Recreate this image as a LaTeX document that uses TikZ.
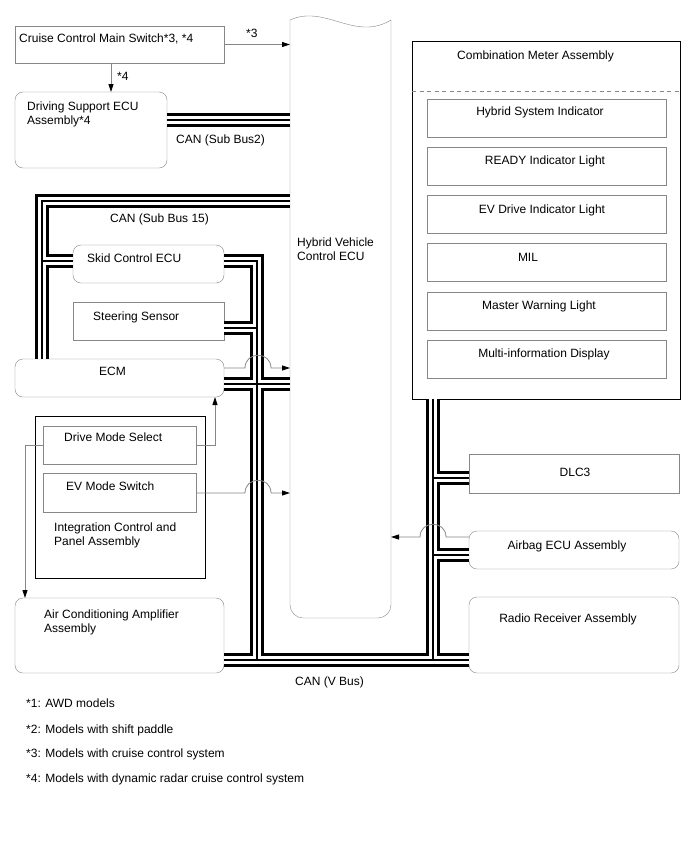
\documentclass[tikz,border=0pt]{standalone}
\usepackage{fontspec}
\setmainfont{Liberation Sans}
\usepackage{tikz}
\usetikzlibrary{arrows.meta,positioning,calc}
\definecolor{linegray}{RGB}{135,135,135}

\begin{document}
\begin{tikzpicture}[x=1pt,y=-1pt,font=\fontsize{12}{14}\selectfont,
  box/.style={draw=linegray,anchor=north west,inner sep=0pt,outer sep=0pt},
  rbox/.style={box,rounded corners=8pt},
  frame/.style={draw=black,anchor=north west,inner sep=0pt,outer sep=0pt},
  lamp/.style={box,minimum width=239pt,minimum height=38pt},
  txt/.style={anchor=base west,inner sep=0pt},
  ctxt/.style={anchor=base,inner sep=0pt},
  mtxt/.style={anchor=north west,inner sep=0pt,align=left},
  sig/.style={draw=linegray,line width=0.8pt,-{Triangle[length=8pt,width=5pt,color=black]}}
]
  \fill[white] (0,0) rectangle (688,852);
  \useasboundingbox (0,0) rectangle (688,852);

  % left column
  \node[box,minimum width=209pt,minimum height=37pt] (ccms) at (15,26) {};
  \node[rbox,minimum width=152pt,minimum height=76pt] (dsecu) at (15,92) {};
  \node[rbox,minimum width=151pt,minimum height=38pt] (skid) at (73,245) {};
  \node[box,minimum width=151pt,minimum height=38pt] (steer) at (73,302) {};
  \node[rbox,minimum width=209pt,minimum height=38pt] (ecm) at (15,359) {};
  \node[frame,minimum width=170pt,minimum height=162pt] (icpanel) at (35,416) {};
  \node[box,minimum width=153pt,minimum height=38pt] (dms) at (43,426) {};
  \node[box,minimum width=153pt,minimum height=39pt] (evsw) at (43,473) {};
  \node[rbox,minimum width=209pt,minimum height=75pt] (acamp) at (15,598) {};

  % hybrid vehicle control ECU
  \node[box,draw=none,minimum width=101pt,minimum height=598pt] (hvecu) at (290,20) {};
  \draw[linegray] (hvecu.north west) .. controls (325,4) and (355,42) .. (hvecu.north east)
    -- (391,605) .. controls (391,612) and (385,618) .. (378,618) -- (303,618)
    .. controls (296,618) and (290,612) .. (290,605) -- cycle;

  % right column
  \node[frame,minimum width=268pt,minimum height=358pt] (cmeter) at (412,41) {};
  \draw[linegray,dash pattern=on 4pt off 3.5pt] (cmeter.west |- 0,91) -- (cmeter.east |- 0,91);
  \node[lamp] (hsi) at (427,99) {};
  \node[lamp,below=10.2pt of hsi] (ready) {};
  \node[lamp,below=10.2pt of ready] (evdrive) {};
  \node[lamp,below=10.2pt of evdrive] (mil) {};
  \node[lamp,below=10.2pt of mil] (mwl) {};
  \node[lamp,below=10.2pt of mwl] (mid) {};
  \node[box,minimum width=210pt,minimum height=39pt] (dlc) at (469,454) {};
  \node[rbox,minimum width=210pt,minimum height=38pt] (airbag) at (469,531) {};
  \node[rbox,minimum width=210pt,minimum height=76pt] (radio) at (469,597) {};

  % texts
  \node[txt] (ccms-t) at (19,42.5) {Cruise Control Main Switch*3, *4};
  \node[mtxt] (dsecu-t) at (27,102) {Driving Support ECU\\Assembly*4};
  \node[txt] (skid-t) at (87,262.5) {Skid Control ECU};
  \node[txt] (steer-t) at (93,320.5) {Steering Sensor};
  \node[txt] (ecm-t) at (99,375.5) {ECM};
  \node[txt] (dms-t) at (64,441.5) {Drive Mode Select};
  \node[txt] (evsw-t) at (66,490.5) {EV Mode Switch};
  \node[mtxt] (icpanel-t) at (54,522.7) {Integration Control and\\Panel Assembly};
  \node[mtxt] (acamp-t) at (44,610) {Air Conditioning Amplifier\\Assembly};
  \node[mtxt] (hvecu-t) at (297,237.5) {Hybrid Vehicle\\Control ECU};
  \node[txt] (cmeter-t) at (457,59.5) {Combination Meter Assembly};
  \node[ctxt] (hsi-t) at (540,115.5) {Hybrid System Indicator};
  \node[ctxt] (ready-t) at (545,164.7) {READY Indicator Light};
  \node[ctxt] (evdrive-t) at (542,213) {EV Drive Indicator Light};
  \node[ctxt] (mil-t) at (528,261) {MIL};
  \node[ctxt] (mwl-t) at (539,309.3) {Master Warning Light};
  \node[ctxt] (mid-t) at (544,357.5) {Multi-information Display};
  \node[ctxt] (dlc-t) at (575,476.5) {DLC3};
  \node[ctxt] (airbag-t) at (567,549.5) {Airbag ECU Assembly};
  \node[ctxt] (radio-t) at (568,622.5) {Radio Receiver Assembly};

  % CAN buses
  \foreach \bw/\bc in {13.5pt/black,8.3pt/white,1.4pt/black}{
    \draw[line width=\bw,draw=\bc,line join=miter]
      (dsecu.east |- 0,120) -- (hvecu.west |- 0,120)
      (hvecu.west |- 0,201) -| (ecm.north -| 42,0)
      (42,261) -- (skid.west |- 0,261)
      (skid.east |- 0,261) -| (257,660)
      (steer.east |- 0,328) -- (257,328)
      (ecm.east |- 0,384) -- (hvecu.west |- 0,384)
      (acamp.east |- 0,660) -- (radio.west |- 0,660)
      (cmeter.south -| 433,0) -- (433,660)
      (433,478) -- (dlc.west |- 0,478)
      (433,555) -- (airbag.west |- 0,555);
  }
  \node[txt] (sb2-t) at (176,143.5) {CAN (Sub Bus2)};
  \node[txt] (sb15-t) at (110,222.5) {CAN (Sub Bus 15)};
  \node[txt] (vbus-t) at (295,685.5) {CAN (V Bus)};

  % signal lines
  \draw[sig] (ccms.east) -- (hvecu.west |- ccms.east);
  \node[txt] (s3-t) at (246,37) {*3};
  \draw[sig] (ccms.south -| 111,0) -- (dsecu.north -| 111,0);
  \node[txt] (s4-t) at (117,80) {*4};
  \draw[sig] (ecm.east |- 0,368) -- (245,368) .. controls +(0,-17) and +(0,-17) .. (271,368) -- (hvecu.west |- 0,368);
  \draw[sig] (evsw.east |- 0,493) -- (245,493) .. controls +(0,-17) and +(0,-17) .. (271,493) -- (hvecu.west |- 0,493);
  \draw[sig] (dms.east) -| (ecm.south -| 215,0);
  \draw[sig] (dms.west) -| (acamp.north -| 25,0);
  \draw[sig] (airbag.west |- 0,537) -- (446,537) .. controls +(0,-17) and +(0,-17) .. (420,537) -- (hvecu.east |- 0,537);

  % notes
  \node[txt] (n1) at (26,707) {*1: AWD models};
  \node[txt] (n2) at (26,733) {*2: Models with shift paddle};
  \node[txt] (n3) at (26,757) {*3: Models with cruise control system};
  \node[txt] (n4) at (26,782) {*4: Models with dynamic radar cruise control system};
\end{tikzpicture}
\end{document}
